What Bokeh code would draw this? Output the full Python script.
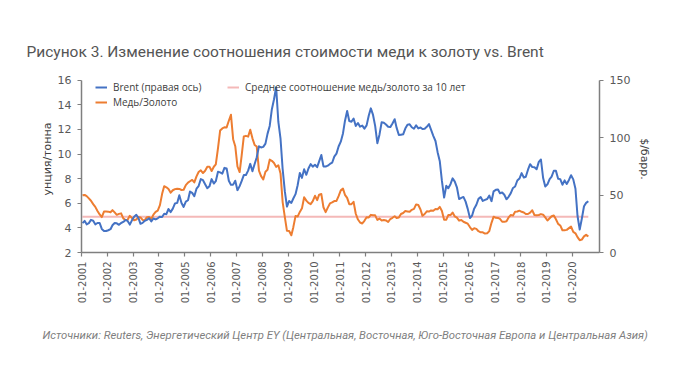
import datetime as dt
from math import pi
import pandas as pd
from bokeh.plotting import figure
from bokeh.models import (Range1d, LinearAxis, FixedTicker, DatetimeTickFormatter,
                          Legend, LegendItem, Title)
from bokeh.embed import file_html
from bokeh.resources import INLINE

title_text = "Рисунок 3. Изменение соотношения стоимости меди к золоту vs. Brent"
source_text = ("Источники: Reuters, Энергетический Центр EY (Центральная, Восточная, "
               "Юго-Восточная Европа и Центральная Азия)")
left_label = "унция/тонна"
right_label = "$/барр."
name_brent = "Brent (правая ось)"
name_ratio = "Медь/Золото"
name_mean = "Среднее соотношение медь/золото за 10 лет"

# monthly Brent, $/bbl (Jan 2001 .. Aug 2020)
brent = [
    25.6, 27.5, 24.5, 25.6, 28.4, 27.7, 24.5, 25.7, 25.6, 20.5, 18.8, 18.7,
    19.4, 20.3, 23.7, 25.7, 25.4, 24.1, 25.7, 26.6, 28.3, 27.5, 24.3, 28.0,
    31.2, 32.8, 30.3, 25.0, 25.8, 27.6, 28.4, 29.8, 27.1, 29.6, 28.8, 29.8,
    31.2, 30.9, 33.8, 33.4, 37.9, 35.2, 38.2, 42.7, 43.2, 49.8, 43.1, 39.7,
    44.3, 45.5, 53.1, 51.9, 49.0, 55.6, 57.9, 63.9, 63.0, 59.5, 56.0, 57.6,
    63.9, 60.1, 62.1, 70.3, 69.8, 68.7, 73.7, 73.2, 62.5, 58.9, 59.1, 62.5,
    54.3, 57.8, 62.1, 67.4, 67.5, 71.3, 77.2, 70.8, 77.1, 82.9, 92.5, 91.5,
    92.0, 94.8, 103.3, 110.2, 124.6, 133.5, 144.0, 113.9, 99.1, 72.7, 53.2, 40.0,
    44.9, 43.2, 47.0, 50.8, 58.6, 69.3, 65.0, 72.5, 67.7, 73.2, 77.0, 74.7,
    76.4, 74.3, 79.3, 84.9, 75.0, 74.8, 75.6, 77.1, 78.2, 83.5, 86.1, 92.3,
    96.5, 103.7, 114.6, 123.3, 114.5, 113.9, 116.7, 110.2, 112.8, 109.6, 110.5, 107.9,
    110.7, 119.3, 125.5, 119.8, 110.3, 95.2, 102.6, 113.4, 113.0, 111.5, 109.5, 109.2,
    112.3, 116.1, 108.5, 102.3, 102.6, 102.9, 107.9, 111.3, 111.6, 109.1, 107.8, 110.8,
    108.1, 108.9, 107.5, 107.8, 109.5, 111.8, 106.8, 101.6, 97.1, 87.4, 79.4, 62.3,
    47.8, 58.1, 55.9, 59.5, 64.6, 61.7, 56.8, 46.5, 47.6, 48.4, 44.3, 38.0,
    30.0, 32.2, 38.2, 41.6, 46.7, 48.3, 44.9, 45.8, 46.6, 49.5, 44.7, 53.3,
    54.6, 54.9, 51.6, 52.3, 50.3, 46.4, 48.5, 51.7, 56.2, 57.5, 62.7, 64.4,
    69.1, 65.3, 66.0, 72.1, 76.9, 74.4, 74.3, 72.5, 78.9, 81.0, 64.8, 57.4,
    59.4, 64.0, 66.1, 71.2, 71.1, 64.2, 63.9, 59.0, 62.8, 59.7, 63.2, 67.3,
    63.7, 55.5, 32.0, 20.0, 29.4, 40.3, 43.2, 44.7,
]

# monthly copper/gold ratio, oz per tonne (Jan 2001 .. Aug 2020)
ratio = [
    6.65, 6.68, 6.58, 6.40, 6.21, 5.93, 5.71, 5.38, 5.09, 4.88, 5.33, 5.33,
    5.32, 5.27, 5.44, 5.26, 5.06, 5.14, 5.18, 4.77, 4.64, 4.67, 4.98, 4.80,
    4.62, 4.68, 4.88, 4.85, 4.65, 4.63, 4.87, 4.89, 4.72, 5.08, 5.30, 5.41,
    5.85, 6.77, 7.39, 7.30, 7.16, 6.86, 7.06, 7.15, 7.19, 7.17, 7.08, 7.10,
    7.48, 7.68, 7.79, 7.90, 7.70, 8.19, 8.54, 8.68, 8.46, 8.64, 8.97, 8.98,
    8.62, 8.97, 9.16, 10.48, 11.91, 12.08, 12.18, 12.17, 12.71, 13.20, 11.21, 10.64,
    8.99, 8.54, 9.85, 11.43, 11.48, 11.42, 11.98, 11.28, 10.74, 10.61, 8.65, 8.21,
    7.94, 8.56, 8.72, 9.55, 9.45, 9.28, 8.96, 9.09, 8.43, 6.10, 4.88, 3.76,
    3.75, 3.40, 4.06, 4.96, 4.92, 5.30, 5.59, 6.49, 6.22, 6.03, 5.93, 6.18,
    6.61, 6.26, 6.70, 6.75, 5.68, 5.28, 5.65, 5.99, 6.07, 6.18, 6.19, 6.58,
    7.05, 7.19, 6.69, 6.44, 5.93, 5.93, 6.12, 5.15, 4.68, 4.44, 4.36, 4.58,
    4.87, 4.85, 5.06, 5.02, 5.02, 4.65, 4.76, 4.61, 4.64, 4.61, 4.48, 4.72,
    4.82, 4.95, 4.80, 4.84, 5.13, 5.21, 5.37, 5.34, 5.31, 5.47, 5.55, 5.91,
    5.86, 5.50, 4.98, 5.13, 5.35, 5.33, 5.42, 5.40, 5.54, 5.52, 5.71, 5.37,
    4.66, 4.67, 5.04, 5.04, 5.25, 4.93, 4.83, 4.59, 4.64, 4.50, 4.42, 4.34,
    4.07, 3.83, 3.97, 3.92, 3.73, 3.64, 3.64, 3.54, 3.56, 3.74, 4.41, 4.91,
    4.82, 4.81, 4.73, 4.50, 4.49, 4.54, 4.85, 5.05, 5.00, 5.32, 5.33, 5.40,
    5.31, 5.25, 5.13, 5.13, 5.24, 5.43, 5.05, 5.03, 5.05, 5.12, 5.07, 4.86,
    4.60, 4.78, 4.95, 5.01, 4.70, 4.33, 4.20, 3.81, 3.81, 3.84, 3.98, 4.11,
    3.67, 3.56, 3.25, 3.00, 3.05, 3.31, 3.45, 3.30,
]

mean_ratio = 4.9
left_ticks = [2, 4, 6, 8, 10, 12, 14, 16]
right_ticks = [0, 50, 100, 150]
tick_years = list(range(2001, 2021))

dates = list(pd.date_range("2001-01-01", periods=len(brent), freq="MS") + pd.Timedelta(days=14))

BLUE = "#4472C4"
ORANGE = "#ED7D31"
PINK = "#F4B9B8"
AXIS = "#7F7F7F"
TXT = "#595959"

# left axis 2..16 and right axis 0..150 share the same pixels; headroom above for legend
L0, L1 = left_ticks[0], left_ticks[-1]
R0, R1 = right_ticks[0], right_ticks[-1]
top_left = 17.2
top_right = R0 + (top_left - L0) * (R1 - R0) / (L1 - L0)

p = figure(width=684, height=363, x_axis_type="datetime",
           x_range=Range1d(dt.datetime(2001, 1, 1), dt.datetime(2021, 1, 20)),
           y_range=Range1d(L0, top_left),
           output_backend="svg", toolbar_location=None,
           min_border_left=81, min_border_right=85, min_border_top=65, min_border_bottom=111)
p.extra_y_ranges = {"brent": Range1d(R0, top_right)}
p.xgrid.visible = False
p.ygrid.visible = False
p.outline_line_color = None
p.background_fill_color = "white"
p.border_fill_color = "white"

r_mean = p.line([dates[0], dates[-1]], [mean_ratio, mean_ratio], line_color=PINK, line_width=2)
r_ratio = p.line(dates, ratio, line_color=ORANGE, line_width=2, line_join="round")
r_brent = p.line(dates, brent, line_color=BLUE, line_width=2, line_join="round", y_range_name="brent")

def style_axis(ax, size="11px"):
    ax.axis_line_color = AXIS
    ax.axis_line_width = 1.5
    ax.major_tick_line_color = AXIS
    ax.major_tick_line_width = 1.2
    ax.major_tick_out = 4
    ax.major_tick_in = 0
    ax.minor_tick_line_color = None
    ax.major_label_text_font = "DejaVu Sans"
    ax.major_label_text_font_size = size
    ax.major_label_text_color = TXT
    ax.axis_label_text_font = "DejaVu Sans"
    ax.axis_label_text_font_size = "11px"
    ax.axis_label_text_font_style = "normal"
    ax.axis_label_text_color = "#404040"

yl = p.yaxis[0]
yl.ticker = FixedTicker(ticks=left_ticks)
yl.bounds = (L0, L1)
yl.axis_label = left_label
style_axis(yl)
yl.major_label_standoff = 6
yl.axis_label_standoff = 1

yr = LinearAxis(y_range_name="brent", ticker=FixedTicker(ticks=right_ticks), axis_label=right_label,
                bounds=(R0, R1))
style_axis(yr)
yr.major_label_standoff = 6
p.add_layout(yr, "right")

xa = p.xaxis[0]
xa.ticker = FixedTicker(ticks=[pd.Timestamp(f"{y}-01-01").value / 1e6 for y in tick_years])
fmt = "%m-%Y"
xa.formatter = DatetimeTickFormatter(years=fmt, months=fmt, days=fmt, hours=fmt, minutes=fmt,
                                     seconds=fmt, milliseconds=fmt, microseconds=fmt,
                                     hourmin=fmt, minsec=fmt)
style_axis(xa, "10px")
xa.major_label_orientation = pi / 2
xa.major_label_standoff = 5

legend = Legend(items=[LegendItem(label=name_brent, renderers=[r_brent]),
                       LegendItem(label=name_ratio, renderers=[r_ratio]),
                       LegendItem(label=name_mean, renderers=[r_mean])],
                nrows=2, orientation="vertical", location=(14, 143),
                padding=0, margin=0, spacing=1, glyph_width=12, glyph_height=14,
                label_height=14, label_width=113, label_standoff=6,
                label_text_font="Open Sans", label_text_font_size="10px",
                label_text_color="#404040", background_fill_alpha=0,
                border_line_color=None)
p.add_layout(legend)

p.add_layout(Title(text=source_text, align="left", offset=-39, text_font="Roboto",
                   text_font_size="11.3px", text_font_style="italic", text_color="#7F7F7F",
                   standoff=40), "below")
p.add_layout(Title(text=title_text, align="left", offset=-55, text_font="Roboto",
                   text_font_size="15.5px", text_font_style="normal", text_color="#555555",
                   standoff=9), "above")

open("out.html", "w").write(file_html(p, INLINE))
